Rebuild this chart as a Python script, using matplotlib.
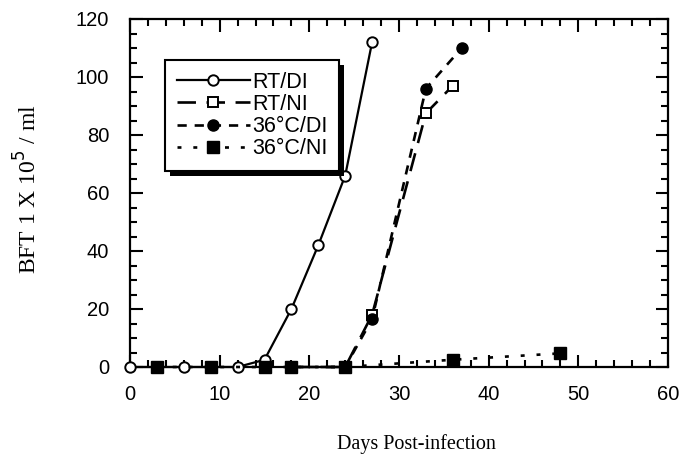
import matplotlib
matplotlib.use('Agg')
import matplotlib.pyplot as plt
from matplotlib.patches import Rectangle
from matplotlib.ticker import MultipleLocator

# Data (days post-infection, BFT x 1e5 / ml)
rt_di_days = [0, 6, 12, 15, 18, 21, 24, 27]
rt_di_vals = [0, 0, 0, 2.5, 20, 42, 66, 112]

rt_ni_days = [18, 24, 27, 33, 36]
rt_ni_vals = [0, 0, 18, 87.5, 97]

c36_di_days = [18, 24, 27, 33, 37]
c36_di_vals = [0, 0, 16.5, 96, 110]

c36_ni_days = [3, 9, 15, 18, 24, 36, 48]
c36_ni_vals = [0, 0, 0, 0, 0, 2.5, 4.7]

x_ticks = [0, 10, 20, 30, 40, 50, 60]
y_ticks = [0, 20, 40, 60, 80, 100, 120]

SANS = 'Liberation Sans'
SERIF = 'Liberation Serif'

fig = plt.figure(figsize=(6.81, 4.54), dpi=100)
ax = fig.add_axes([130 / 681, 1 - 367 / 454, 538 / 681, 348 / 454])

ax.plot(rt_di_days, rt_di_vals, color='black', lw=1.6, marker='o', ms=7.5,
        mfc='white', mec='black', mew=1.4, label='RT/DI', zorder=3)
ax.plot(rt_ni_days, rt_ni_vals, color='black', lw=1.9, dashes=(7, 4), marker='s', ms=7.5,
        mfc='white', mec='black', mew=1.4, label='RT/NI', zorder=3)
ax.plot(c36_di_days, c36_di_vals, color='black', lw=1.9, dashes=(3.5, 3), marker='o', ms=8,
        mfc='black', mec='black', label='36\u00b0C/DI', zorder=4)
ax.plot(c36_ni_days, c36_ni_vals, color='black', lw=1.9, dashes=(1.5, 4.5), marker='s', ms=8.5,
        mfc='black', mec='black', label='36\u00b0C/NI', zorder=5)

ax.set_xlim(0, 60)
ax.set_ylim(0, 120)
ax.set_xticks(x_ticks)
ax.set_yticks(y_ticks)
ax.xaxis.set_minor_locator(MultipleLocator(2))
ax.yaxis.set_minor_locator(MultipleLocator(5))
ax.tick_params(which='both', direction='in', top=True, right=True, width=1.5, color='black')
ax.tick_params(which='major', length=9)
ax.tick_params(which='minor', length=5)
ax.tick_params(axis='x', which='major', pad=13, labelsize=14.5)
ax.tick_params(axis='y', which='major', pad=15, labelsize=14.5)
for lab in ax.get_xticklabels() + ax.get_yticklabels():
    lab.set_fontfamily(SANS)
for sp in ax.spines.values():
    sp.set_linewidth(1.6)
for line in ax.lines:
    line.set_clip_on(False)

fig.text(28 / 681, 1 - 189 / 454, 'BFT 1 X 10$^{5}$ / ml', rotation=90, ha='center', va='center',
         fontsize=17, family=SERIF)
fig.text(416 / 681, 5 / 454, 'Days Post-infection', ha='center', va='baseline',
         fontsize=14.5, family=SERIF)

leg = ax.legend(loc='upper left', bbox_to_anchor=(0.065, 0.882), borderaxespad=0,
                frameon=True, fancybox=False, edgecolor='black', facecolor='white',
                framealpha=1, handlelength=3.4,
                handletextpad=0.1, labelspacing=0.05, borderpad=0.55,
                prop={'family': SANS, 'size': 15.5})
leg.get_frame().set_linewidth(1.5)
leg.set_zorder(10)

# thick black drop shadow behind the legend box
fig.canvas.draw()
bb = leg.get_window_extent().transformed(fig.transFigure.inverted())
off_x, off_y = 5 / 681, 5 / 454
shadow = Rectangle((bb.x0 + off_x, bb.y0 - off_y), bb.width, bb.height,
                   transform=fig.transFigure, facecolor='black', edgecolor='none',
                   zorder=9, clip_on=False)
ax.add_patch(shadow)

fig.savefig('out.png', dpi=100)
